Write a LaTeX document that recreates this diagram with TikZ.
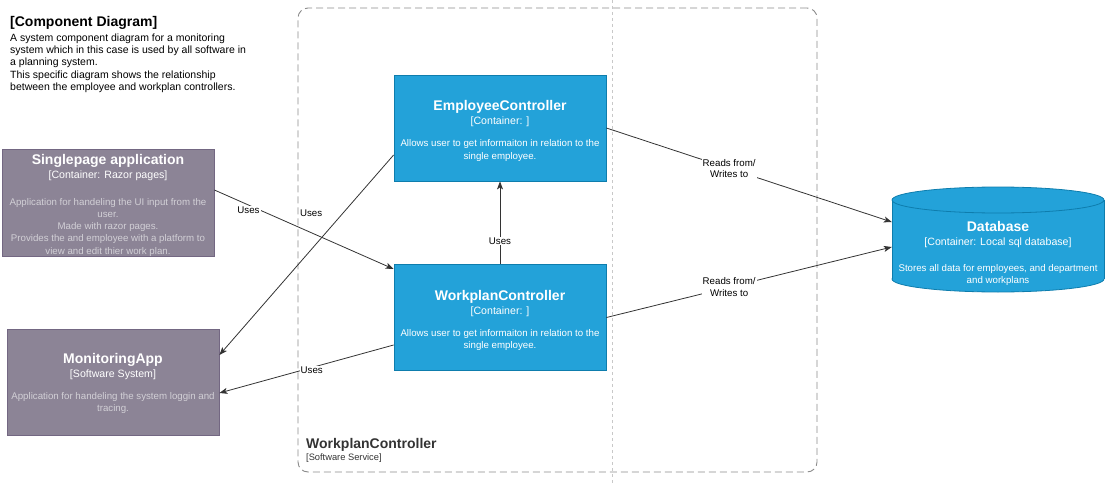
\documentclass[tikz,border=0pt]{standalone}
\usepackage{fontspec}
\setmainfont{Liberation Sans}
\usetikzlibrary{arrows.meta}
\definecolor{extfill}{HTML}{8C8496}
\definecolor{extline}{HTML}{736782}
\definecolor{cfill}{HTML}{23A2D9}
\definecolor{cline}{HTML}{0E7DAD}
\definecolor{lnk}{HTML}{333333}
\definecolor{dsc}{HTML}{D2D0D6}
\definecolor{bndc}{HTML}{8A8A8A}
\definecolor{pgl}{HTML}{C8C8C8}
\definecolor{bndtxt}{HTML}{333333}
\newcommand\ttlfont[1]{{\fontsize{14}{16}\selectfont\bfseries #1}}
\newcommand\bt[2]{{\rule{0pt}{#1}\fontsize{14}{16}\selectfont\bfseries #2}}
\newcommand\st[1]{{\fontsize{10.6}{12.3}\selectfont #1}}
\newcommand\dl[1]{{\color{dsc}#1}}
\tikzset{
  base/.style={rectangle, draw, minimum width=212pt, minimum height=106pt, align=center, inner sep=0pt, font=\fontsize{9.7}{12.3}\selectfont, line width=0.8pt},
  ext/.style={base, fill=extfill, draw=extline, text=white},
  cont/.style={base, fill=cfill, draw=cline, text=white},
  rel/.style={draw=lnk, line width=0.8pt, -{Stealth[length=8pt,width=6pt,inset=2pt]}},
  lbl/.style={fill=white, inner sep=1pt, font=\fontsize{9.7}{11.5}\selectfont, text=black, align=center},
  bnd/.style={draw=bndc, line width=0.9pt, dash pattern=on 7pt off 4pt, rounded corners=10pt, minimum width=519pt, minimum height=464pt, inner sep=0pt},
}
\begin{document}
\begin{tikzpicture}[x=1pt,y=-1pt]
\useasboundingbox (0,0) rectangle (1110,484);
% page break guide
\draw[draw=pgl, line width=0.8pt, dash pattern=on 3pt off 3pt] (612,0) -- (612,484);
% boundary
\node[bnd] (bd) at (557.5,240) {};
\node[anchor=north west, inner sep=0pt, align=left, text=bndtxt, font=\fontsize{9.3}{12}\selectfont] (bdl) at (306,438)
  {\ttlfont{WorkplanController}\\[0pt][Software Service]};
% title block
\node[anchor=north west, inner sep=0pt, align=left, font=\fontsize{10.5}{12.3}\selectfont] (title) at (10,16)
  {\ttlfont{[Component Diagram]}\\[2.7pt]A system component diagram for a monitoring\\system which in this case is used by all software in\\a planning system.\\This specific diagram shows the relationship\\between the employee and workplan controllers.};
% boxes
\node[ext] (sp) at (108,203) {\bt{15pt}{Singlepage application}\\[1.7pt]\st{[Container: Razor pages]}\\[14pt]\dl{Application for handeling the UI input from the}\\\dl{user.}\\\dl{Made with razor pages.}\\\dl{Provides the and employee with a platform to}\\\dl{view and edit thier work plan.}};
\node[ext] (ma) at (113,382.5) {\bt{12pt}{MonitoringApp}\\[1.7pt]\st{[Software System]}\\[9.7pt]\dl{Application for handeling the system loggin and}\\\dl{tracing.}};
\node[cont] (ec) at (500,128) {\bt{16pt}{EmployeeController}\\[1.7pt]\st{[Container: ]}\\[9.7pt]Allows user to get informaiton in relation to the\\single employee.};
\node[cont] (wp) at (500,317.5) {\bt{16pt}{WorkplanController}\\[1.7pt]\st{[Container: ]}\\[9.7pt]Allows user to get informaiton in relation to the\\single employee.};
% database cylinder
\path[fill=cfill, draw=cline, line width=0.8pt] (998,279) ellipse [x radius=106, y radius=13];
\fill[cfill] (892,200) rectangle (1104,279);
\draw[cline, line width=0.8pt] (892,200) -- (892,279) (1104,200) -- (1104,279);
\path[fill=cfill, draw=cline, line width=0.8pt] (998,200) ellipse [x radius=106, y radius=13];
\node[minimum width=212pt, minimum height=105pt, inner sep=0pt] (db) at (998,239.5) {};
\node[align=center, inner sep=0pt, text=white, font=\fontsize{9.7}{12.3}\selectfont] (dbt) at (998,253.5)
  {\ttlfont{Database}\\[1.7pt]\st{[Container: Local sql database]}\\[13pt]Stores all data for employees, and department\\and workplans};
% connectors
\draw[rel] ([yshift=13pt]sp.east) -- node[lbl, pos=0.19, yshift=-5pt]{Uses} ([yshift=48.5pt]wp.west);
\draw[rel] ([yshift=-27pt]ec.west) -- node[lbl, pos=0.29, xshift=-32pt]{Uses} ([yshift=27.5pt]ma.east);
\draw[rel] ([yshift=-27.5pt]wp.west) -- node[lbl, pos=0.47, yshift=-3pt]{Uses} ([yshift=-10.5pt]ma.east);
\draw[rel] (wp.north) -- node[lbl, pos=0.28]{Uses} (ec.south);
\draw[rel] (ec.east) -- node[lbl, pos=0.43]{Reads from/\\Writes to} ([yshift=17.5pt]db.west);
\draw[rel] (wp.east) -- node[lbl, pos=0.43]{Reads from/\\Writes to} ([yshift=-7.5pt]db.west);
\end{tikzpicture}
\end{document}
